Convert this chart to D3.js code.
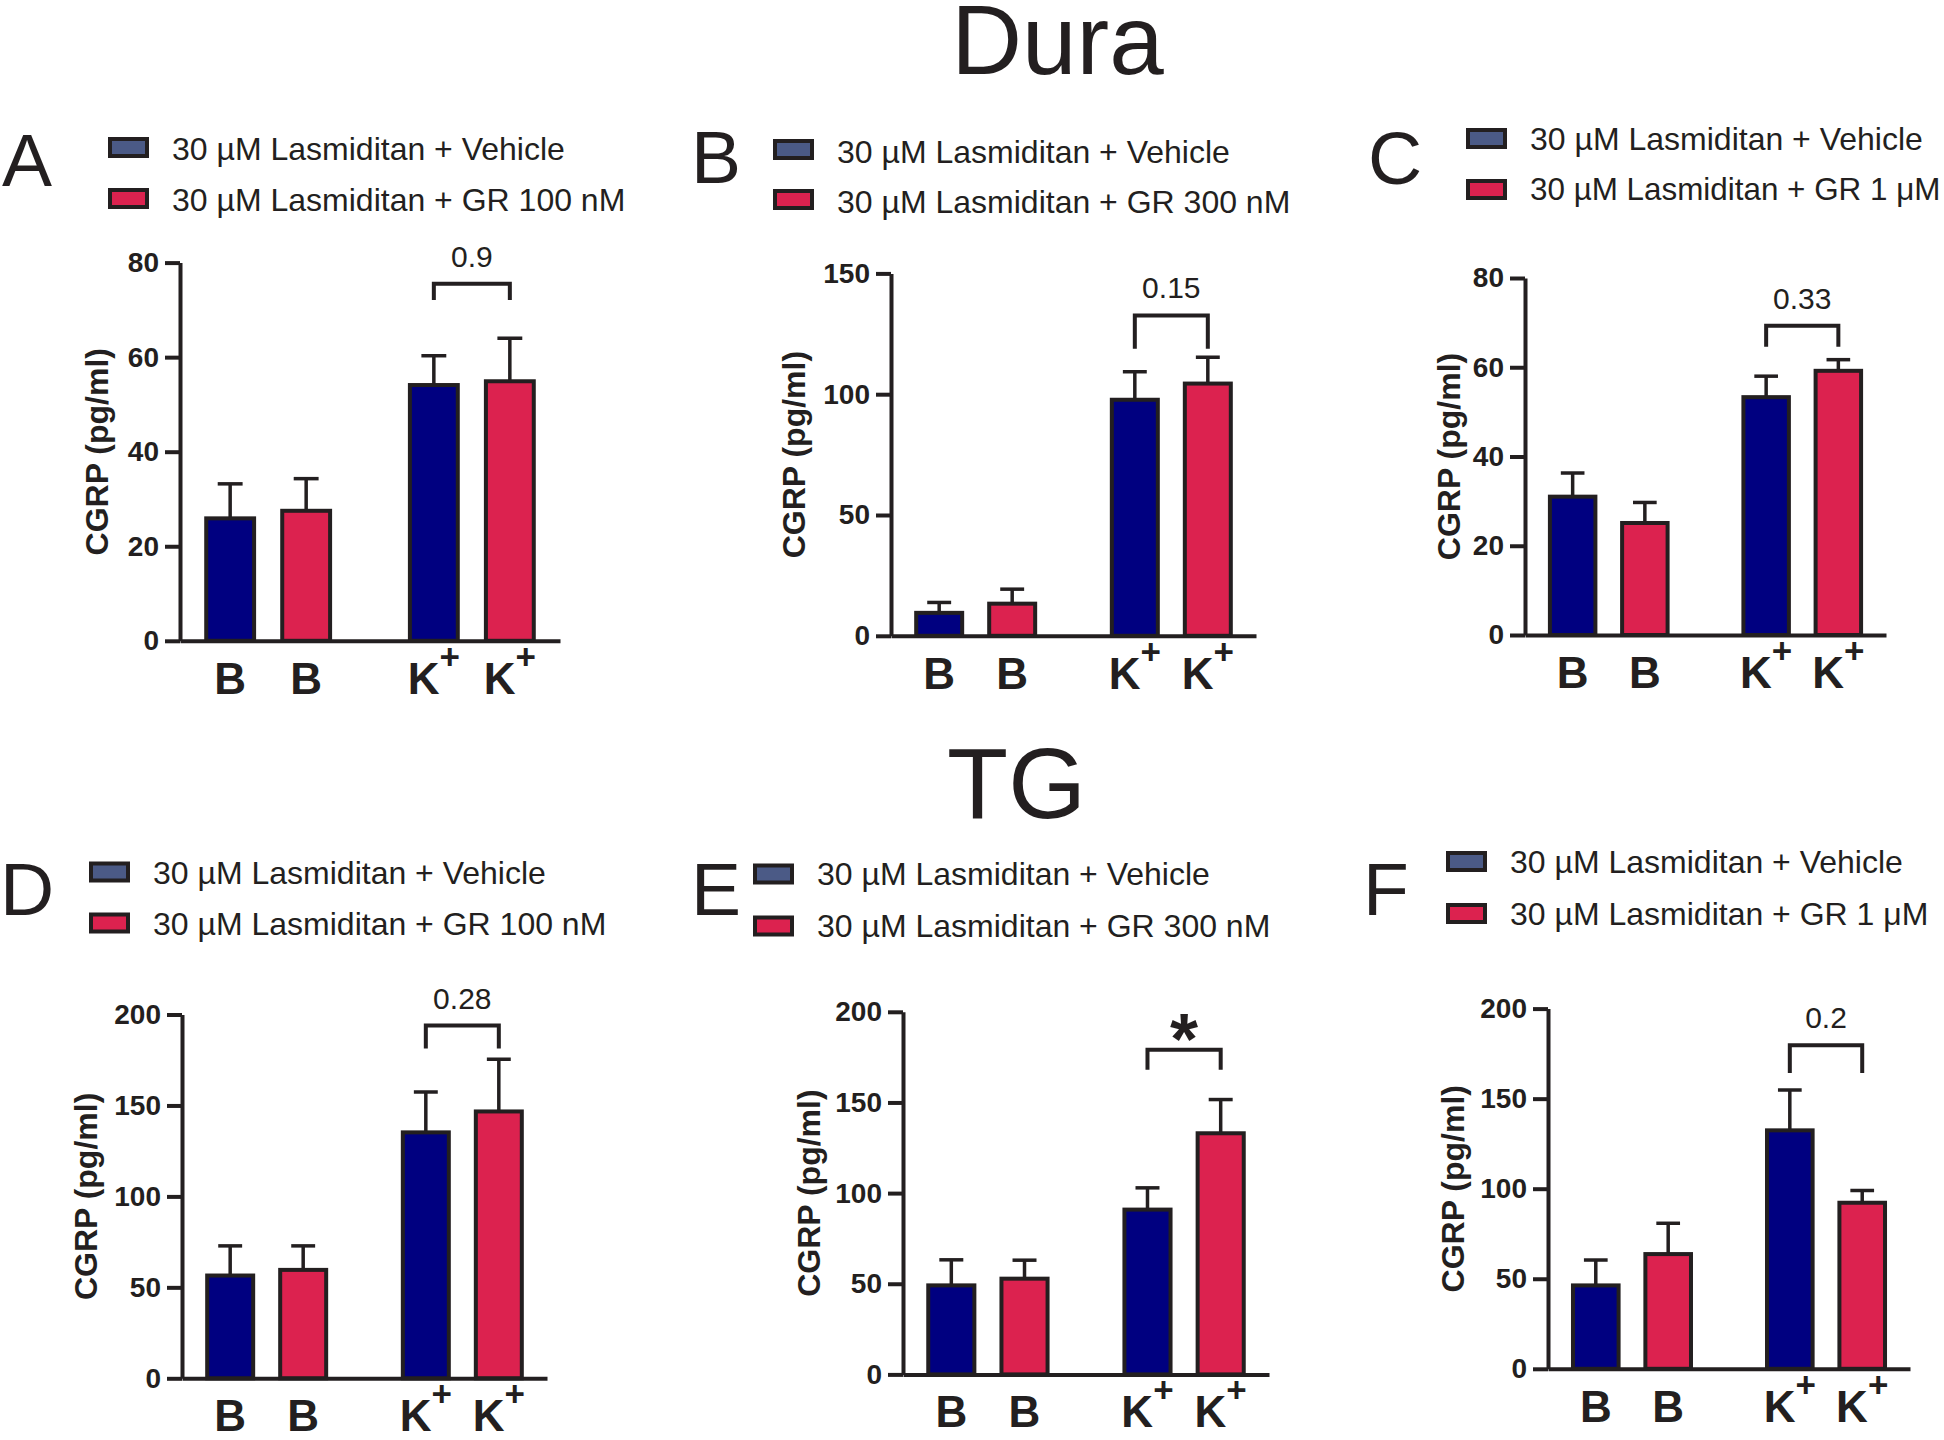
<!DOCTYPE html>
<html>
<head>
<meta charset="utf-8">
<script src="https://cdn.jsdelivr.net/npm/d3@7"></script>
<style>
  body { margin: 0; background: #fff; }
  text { font-family: "Liberation Sans", Arial, Helvetica, sans-serif; fill: #231f20; }
</style>
</head>
<body>
<div id="chart"></div>
<script>
// Datos (orden: Vehicle B, GR B, Vehicle K+, GR K+)
const categories = ["B", "B", "K+", "K+"];
const seriesOf = ["veh", "gr", "veh", "gr"];

const meanA = [25.9, 27.5, 54.1, 54.9];
const errA  = [7.3, 6.8, 6.2, 9.1];
const meanB = [9.5, 13.3, 97.7, 104.4];
const errB  = [4.3, 6.0, 11.6, 10.9];
const meanC = [31.0, 25.1, 53.3, 59.2];
const errC  = [5.3, 4.6, 4.7, 2.5];
const meanD = [56.5, 59.6, 135.2, 146.7];
const errD  = [16.3, 13.2, 22.2, 28.7];
const meanE = [49.1, 52.8, 90.9, 133.0];
const errE  = [14.1, 10.2, 12.0, 18.6];
const meanF = [46.3, 63.7, 132.4, 92.2];
const errF  = [14.1, 17.1, 22.4, 6.8];

const yMax  = [80, 150, 80, 200, 200, 200];
const yStep = [20, 50, 20, 50, 50, 50];

// p-valores / significancia entre K+ vehicle y K+ GR
const pLabels     = ["0.9", "0.15", "0.33", "0.28", "*", "0.2"];
const bracketTop  = [75.5, 132.6, 69.3, 193.9, 179.0, 179.6];
const bracketLeg  = [72.1, 118.8, 64.6, 181.3, 168.0, 164.2];

const legendVeh = "30 µM Lasmiditan + Vehicle";
const legendGR  = ["30 µM Lasmiditan + GR 100 nM", "30 µM Lasmiditan + GR 300 nM",
                   "30 µM Lasmiditan + GR 1 μM", "30 µM Lasmiditan + GR 100 nM",
                   "30 µM Lasmiditan + GR 300 nM", "30 µM Lasmiditan + GR 1 μM"];
const panelLetters = ["A", "B", "C", "D", "E", "F"];
const sectionTitles = ["Dura", "TG"];
const yTitle = "CGRP (pg/ml)";

const means = [meanA, meanB, meanC, meanD, meanE, meanF];
const errs  = [errA, errB, errC, errD, errE, errF];

// Layout (pixeles)
const layout = [
  { ax: 180,  ae: 560,  yt: 262.6,  y0: 640.8,  tOff: 72,   lx: 108,  ly: 137,   ty: [148, 199], letX: 2,    letY: 186 },
  { ax: 891,  ae: 1256, yt: 273.4,  y0: 635.8,  tOff: 86,   lx: 773,  ly: 139,   ty: [151, 201], letX: 691,  letY: 183 },
  { ax: 1525, ae: 1886, yt: 278,    y0: 635,    tOff: 65,   lx: 1466, ly: 128,   ty: [138, 189], letX: 1368, letY: 184 },
  { ax: 182,  ae: 547,  yt: 1014.5, y0: 1378.3, tOff: 85,   lx: 89,   ly: 861.5, ty: [872, 923], letX: 0,    letY: 915 },
  { ax: 903,  ae: 1269, yt: 1011.8, y0: 1374.4, tOff: 83,   lx: 753,  ly: 863.5, ty: [873, 925], letX: 691,  letY: 915 },
  { ax: 1548, ae: 1910, yt: 1008.6, y0: 1368.8, tOff: 84,   lx: 1446, ly: 851,   ty: [861, 913], letX: 1363, letY: 915 }
];
const slots = [0.66, 1.66, 3.34, 4.34];
const barW = 0.63;
const pageW = 1944;

const colors = { veh: "#000080", gr: "#dc224f" };
const legendColors = ["#4b5a86", "#dc224f"];
const ink = "#231f20";

const svg = d3.select("#chart").append("svg")
    .attr("width", pageW)
    .attr("height", 1440);

// Titulos de seccion
svg.append("text")
    .attr("x", 1057.5).attr("y", 74)
    .attr("text-anchor", "middle")
    .style("font-size", "98px")
    .text(sectionTitles[0]);
svg.append("text")
    .attr("x", 1016.5).attr("y", 818)
    .attr("text-anchor", "middle")
    .style("font-size", "100px")
    .text(sectionTitles[1]);

layout.forEach((L, p) => {
    const g = svg.append("g");

    const x = d3.scaleLinear().domain([0, 5]).range([L.ax, L.ae]);
    const y = d3.scaleLinear().domain([0, yMax[p]]).range([L.y0, L.yt]);
    const bw = x(barW) - x(0);

    const data = means[p].map((m, i) => ({
        cat: categories[i], s: seriesOf[i], mean: m, err: errs[p][i], pos: slots[i]
    }));

    // Barras de error (solo hacia arriba)
    g.selectAll(".err")
        .data(data).enter().append("line")
        .attr("x1", d => x(d.pos)).attr("x2", d => x(d.pos))
        .attr("y1", d => y(d.mean)).attr("y2", d => y(d.mean + d.err))
        .attr("stroke", ink).attr("stroke-width", 3.5);
    g.selectAll(".cap")
        .data(data).enter().append("line")
        .attr("x1", d => x(d.pos) - bw * 0.26).attr("x2", d => x(d.pos) + bw * 0.26)
        .attr("y1", d => y(d.mean + d.err)).attr("y2", d => y(d.mean + d.err))
        .attr("stroke", ink).attr("stroke-width", 3.5);

    // Barras
    g.selectAll(".bar")
        .data(data).enter().append("rect")
        .attr("x", d => x(d.pos) - bw / 2)
        .attr("width", bw)
        .attr("y", d => y(d.mean))
        .attr("height", d => y(0) - y(d.mean))
        .attr("fill", d => colors[d.s])
        .attr("stroke", ink)
        .attr("stroke-width", 4);

    // Ejes
    const yAxis = g.append("g")
        .attr("transform", `translate(${L.ax},0)`)
        .call(d3.axisLeft(y).tickValues(d3.range(0, yMax[p] + 1, yStep[p]))
            .tickSize(15).tickSizeOuter(0).tickPadding(6));
    const xAxis = g.append("g")
        .attr("transform", `translate(0,${L.y0})`)
        .call(d3.axisBottom(x).tickValues([]).tickSizeOuter(0));
    [yAxis, xAxis].forEach(a => {
        a.selectAll("path, line").attr("stroke", ink).attr("stroke-width", 4);
    });
    yAxis.selectAll("text")
        .style("font-size", "28px").style("font-weight", "bold")
        .attr("fill", ink);

    // Titulo eje Y
    g.append("text")
        .attr("transform", `translate(${L.ax - L.tOff},${(L.y0 + L.yt) / 2}) rotate(-90)`)
        .attr("text-anchor", "middle")
        .style("font-size", "32px").style("font-weight", "bold")
        .text(yTitle);

    // Etiquetas de categoria
    const lab = g.selectAll(".xl")
        .data(data).enter().append("text")
        .attr("x", d => x(d.pos))
        .attr("y", L.y0 + 53)
        .attr("text-anchor", "middle")
        .style("font-size", "44px").style("font-weight", "bold")
        .text(d => d.cat.replace("+", ""));
    lab.filter(d => d.cat.includes("+")).append("tspan")
        .attr("dy", -25)
        .style("font-size", "35px")
        .text("+");

    // Corchete de comparacion
    const xl = x(slots[2]), xr = x(slots[3]);
    g.append("path")
        .attr("d", `M${xl},${y(bracketLeg[p])}V${y(bracketTop[p])}H${xr}V${y(bracketLeg[p])}`)
        .attr("fill", "none").attr("stroke", ink).attr("stroke-width", 4);
    const isStar = pLabels[p] === "*";
    g.append("text")
        .attr("x", (xl + xr) / 2)
        .attr("y", isStar ? y(bracketTop[p]) + 14 : y(bracketTop[p]) - 17)
        .attr("text-anchor", "middle")
        .style("font-size", isStar ? "72px" : "30px")
        .style("font-weight", isStar ? "bold" : "normal")
        .text(pLabels[p]);

    // Leyenda
    [legendVeh, legendGR[p]].forEach((t, i) => {
        g.append("rect")
            .attr("x", L.lx + 2).attr("y", L.ly + 2 + i * (L.ty[1] - L.ty[0]))
            .attr("width", 37).attr("height", 17)
            .attr("fill", legendColors[i])
            .attr("stroke", ink).attr("stroke-width", 4);
        const txt = g.append("text")
            .attr("x", L.lx + 64).attr("y", L.ty[i])
            .attr("dy", "0.36em")
            .style("font-size", "32px")
            .text(t);
        // encoger si no cabe en la pagina
        const room = pageW - 4 - (L.lx + 64);
        const len = txt.node().getComputedTextLength();
        if (len > room) txt.style("font-size", (32 * room / len).toFixed(1) + "px");
    });

    // Letra del panel
    g.append("text")
        .attr("x", L.letX).attr("y", L.letY)
        .style("font-size", "75px")
        .text(panelLetters[p]);
});
</script>
</body>
</html>
